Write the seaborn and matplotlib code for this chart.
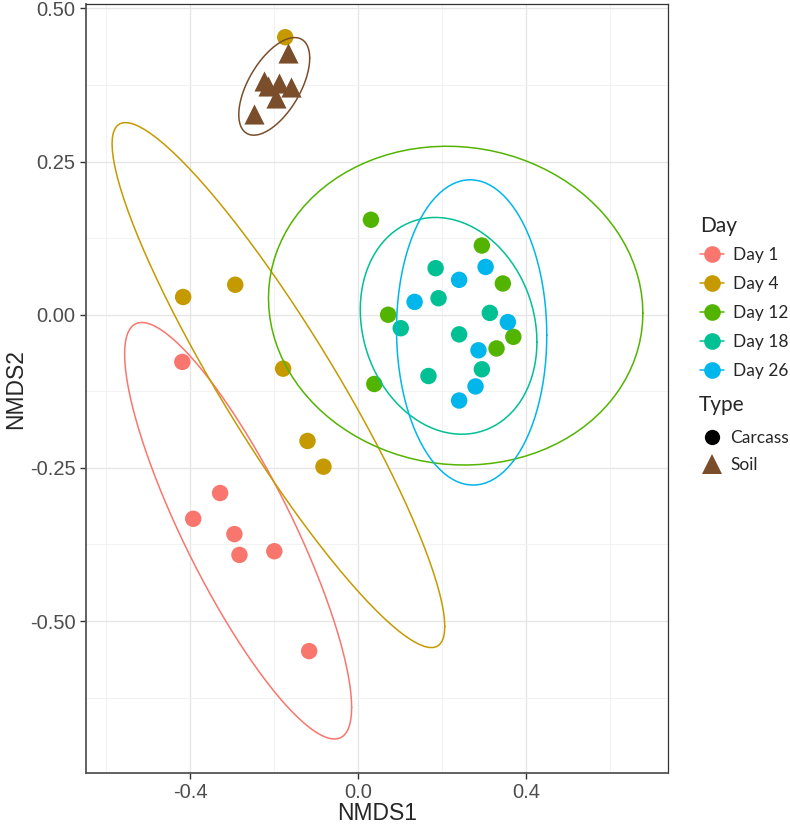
import numpy as np
import pandas as pd
import matplotlib
matplotlib.use("Agg")
import matplotlib.pyplot as plt
import seaborn as sns
from matplotlib.lines import Line2D

# NMDS scores
days = ["Day 1", "Day 4", "Day 12", "Day 18", "Day 26"]
day_colors = ["#F8766D", "#C49A00", "#53B400", "#00C094", "#00B6EB"]
soil_color = "#7A4E2A"

day1_x = [-0.419, -0.329, -0.393, -0.295, -0.283, -0.200, -0.117]
day1_y = [-0.077, -0.291, -0.333, -0.358, -0.392, -0.386, -0.549]
day4_x = [-0.174, -0.417, -0.293, -0.179, -0.121, -0.083]
day4_y = [0.453, 0.029, 0.049, -0.088, -0.206, -0.248]
day12_x = [0.030, 0.294, 0.344, 0.071, 0.369, 0.329, 0.038]
day12_y = [0.155, 0.113, 0.051, 0.000, -0.036, -0.055, -0.113]
day18_x = [0.184, 0.191, 0.101, 0.313, 0.240, 0.294, 0.167]
day18_y = [0.076, 0.027, -0.022, 0.003, -0.032, -0.089, -0.100]
day26_x = [0.134, 0.240, 0.303, 0.356, 0.286, 0.279, 0.240]
day26_y = [0.021, 0.057, 0.078, -0.012, -0.058, -0.117, -0.140]
soil_x = [-0.167, -0.224, -0.188, -0.160, -0.214, -0.195, -0.248]
soil_y = [0.428, 0.382, 0.379, 0.371, 0.374, 0.353, 0.327]

# the stray Day 4 sample up by the soil cluster has no part in its ellipse
day4_in_ellipse = [False, True, True, True, True, True]

xs = [day1_x, day4_x, day12_x, day18_x, day26_x]
ys = [day1_y, day4_y, day12_y, day18_y, day26_y]

rows = []
for d, gx, gy in zip(days, xs, ys):
    flags = day4_in_ellipse if d == "Day 4" else [True] * len(gx)
    for a, b, f in zip(gx, gy, flags):
        rows.append([a, b, d, "Carcass", f])
for a, b in zip(soil_x, soil_y):
    rows.append([a, b, "Soil", "Soil", True])
df = pd.DataFrame(rows, columns=["NMDS1", "NMDS2", "Group", "Type", "InEllipse"])


def cov_trob(pts, nu=5, maxit=25, tol=0.01):
    # robust t covariance, same steps as MASS::cov.trob
    n, p = pts.shape
    loc = pts.mean(axis=0)
    w = np.ones(n)
    for _ in range(maxit):
        w0 = w
        X = pts - loc
        _, d, vt = np.linalg.svd(np.sqrt(w / w.sum())[:, None] * X, full_matrices=False)
        wX = X @ vt.T / d
        Q = (wX ** 2).sum(axis=1)
        w = (nu + p) / (nu + Q)
        loc = (w[:, None] * pts).sum(axis=0) / w.sum()
        if np.all(np.abs(w - w0) < tol):
            break
    sX = np.sqrt(w)[:, None] * X
    return loc, sX.T @ sX / n


def ellipse(pts, level=0.95, segments=100):
    loc, cov = cov_trob(pts)
    dfd = len(pts) - 1
    fq = dfd / 2 * ((1 - level) ** (-2 / dfd) - 1)
    radius = np.sqrt(2 * fq)
    t = np.linspace(0, 2 * np.pi, segments + 1)
    circle = np.column_stack([np.cos(t), np.sin(t)])
    return loc + radius * circle @ np.linalg.cholesky(cov).T


sns.set_style("white")
fig = plt.figure(figsize=(7.9, 8.25), dpi=100)
ax = fig.add_axes([0.109, 0.063, 0.737, 0.932])

palette = dict(zip(days, day_colors))
palette["Soil"] = soil_color
carcass = df[df["Type"] == "Carcass"]
soil = df[df["Type"] == "Soil"]
sns.scatterplot(data=carcass, x="NMDS1", y="NMDS2", hue="Group", palette=palette,
                marker="o", s=140, linewidth=0, legend=False, ax=ax, zorder=3)
sns.scatterplot(data=soil, x="NMDS1", y="NMDS2", color=soil_color,
                marker="^", s=210, linewidth=0, legend=False, ax=ax, zorder=3)

for name, c in palette.items():
    g = df[(df["Group"] == name) & df["InEllipse"]][["NMDS1", "NMDS2"]].to_numpy()
    e = ellipse(g)
    ax.plot(e[:, 0], e[:, 1], color=c, lw=1.1, zorder=4)

ax.set_xlim(-0.648, 0.738)
ax.set_ylim(-0.748, 0.507)
ax.set_xticks([-0.4, 0.0, 0.4])
ax.set_xticklabels(["-0.4", "0.0", "0.4"])
ax.set_yticks([-0.5, -0.25, 0.0, 0.25, 0.5])
ax.set_yticklabels(["-0.50", "-0.25", "0.00", "0.25", "0.50"])
ax.set_xticks([-0.6, -0.2, 0.2, 0.6], minor=True)
ax.set_yticks([-0.625, -0.375, -0.125, 0.125, 0.375], minor=True)
ax.grid(True, which="major", color="#E6E6E6", lw=1.0)
ax.grid(True, which="minor", color="#F2F2F2", lw=0.7)
ax.set_axisbelow(True)
for s in ["top", "right"]:
    ax.spines[s].set_color("#333333")
    ax.spines[s].set_linewidth(0.9)
for s in ["left", "bottom"]:
    ax.spines[s].set_color("#555555")
    ax.spines[s].set_linewidth(1.3)
ax.tick_params(axis="both", which="major", length=4, width=1, color="#333333",
               labelsize=14.5, labelcolor="#4D4D4D", direction="out", bottom=True, left=True)
ax.tick_params(axis="both", which="minor", length=0)
for lab in ax.get_xticklabels() + ax.get_yticklabels():
    lab.set_family("Liberation Sans")
ax.set_xlabel("NMDS1", fontsize=16.5, family="Liberation Sans", labelpad=0)
ax.set_ylabel("NMDS2", fontsize=16.5, family="Liberation Sans", labelpad=2)

# legends: titles placed as text, entries as title-less legends
legend_font = {"family": "Lato", "size": 12.5}
fig.text(0.886, 0.726, "Day", family="Lato", fontsize=15, va="center", ha="left")
day_handles = [Line2D([0], [0], color=c, lw=1.1, marker="o", markersize=12,
                      markeredgewidth=0) for c in day_colors]
leg1 = fig.legend(day_handles, days, loc="upper left",
                  bbox_to_anchor=(0.875, 0.7115), frameon=False, handlelength=1.4,
                  handletextpad=0.5, labelspacing=0.75, borderpad=0, prop=legend_font)

fig.text(0.885, 0.509, "Type", family="Lato", fontsize=15, va="center", ha="left")
type_handles = [Line2D([0], [0], color="black", lw=0, marker="o", markersize=11, markeredgewidth=0),
                Line2D([0], [0], color=soil_color, lw=0, marker="^", markersize=14, markeredgewidth=0)]
leg2 = fig.legend(type_handles, ["Carcass", "Soil"], loc="upper left",
                  bbox_to_anchor=(0.875, 0.4895), frameon=False, handlelength=1.4,
                  handletextpad=0.35, labelspacing=0.65, borderpad=0, prop=legend_font)

fig.savefig("out.png", dpi=100)
